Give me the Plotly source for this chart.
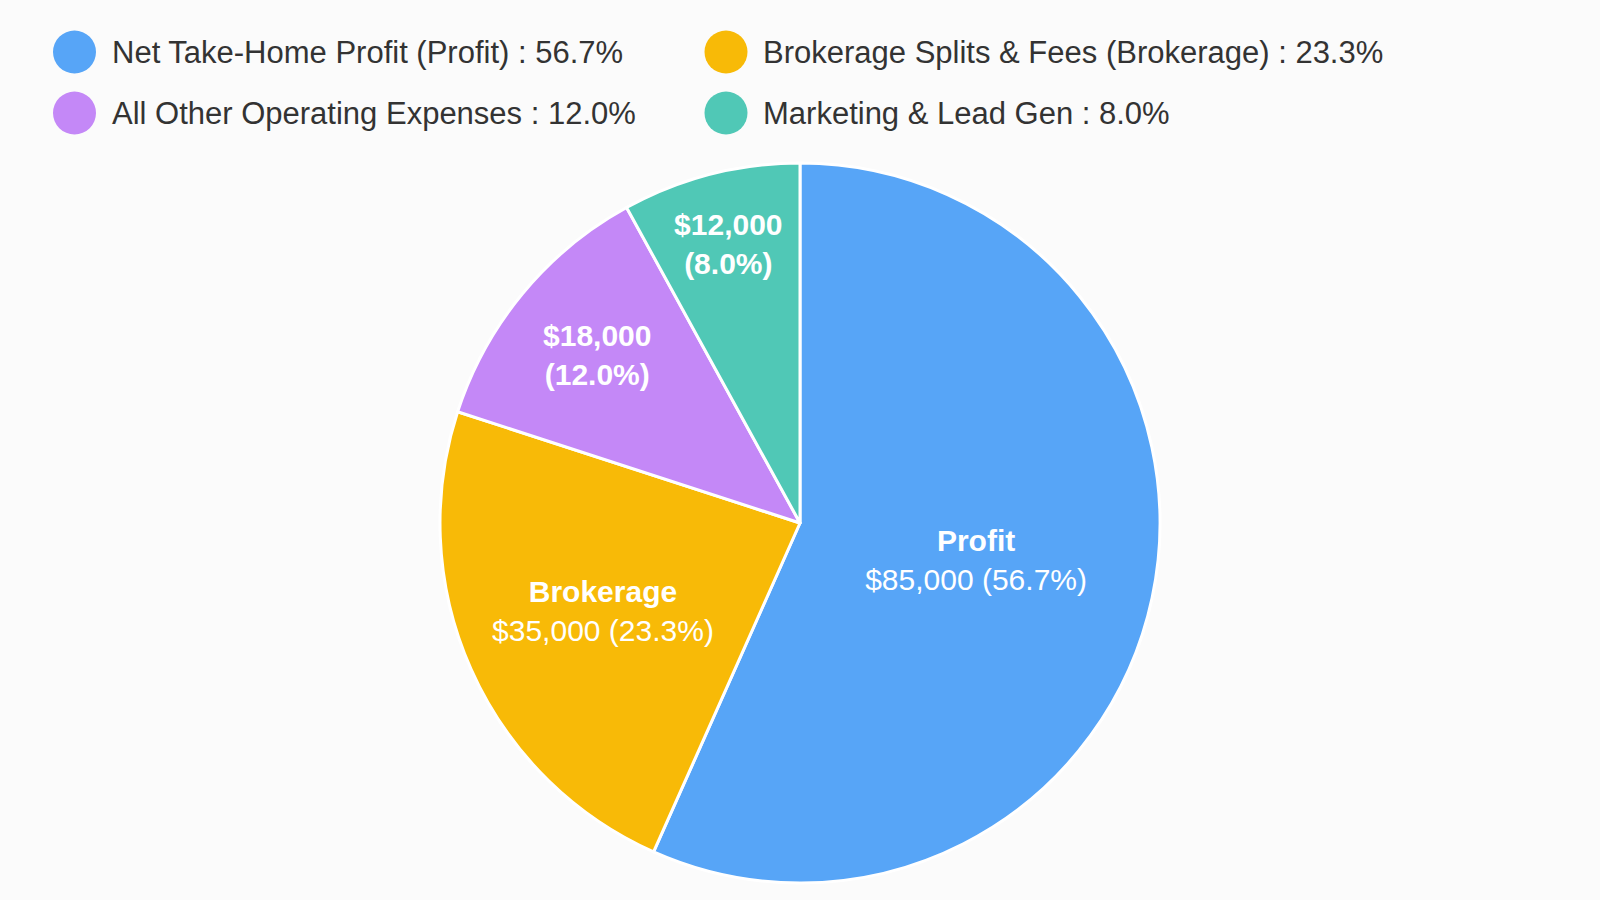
import plotly.graph_objects as go

# slice data
short_names = ["Profit", "Brokerage", "Other", "Marketing"]
legend_names = [
    "Net Take-Home Profit (Profit)",
    "Brokerage Splits & Fees (Brokerage)",
    "All Other Operating Expenses",
    "Marketing & Lead Gen",
]
amounts = [85000, 35000, 18000, 12000]
colors = ["#57A5F7", "#F8BA07", "#C488F7", "#50C8B6"]

total = sum(amounts)
pcts = [a / total * 100 for a in amounts]

# slice labels: big slices get a name line, small ones just value + pct
slice_text = []
for name, a, p in zip(short_names, amounts, pcts):
    if p > 20:
        slice_text.append(f"<b>{name}</b><br>${a:,.0f} ({p:.1f}%)")
    else:
        slice_text.append(f"<b>${a:,.0f}<br>({p:.1f}%)</b>")

fig = go.Figure()
fig.add_trace(go.Pie(
    labels=legend_names,
    values=amounts,
    text=slice_text,
    textinfo="text",
    textposition="inside",
    insidetextorientation="horizontal",
    textfont=dict(family="Liberation Sans, Arial", size=30, color="white"),
    marker=dict(colors=colors, line=dict(color="white", width=3)),
    sort=False,
    direction="clockwise",
    rotation=0,
    showlegend=False,
    hoverinfo="label+value+percent",
    domain=dict(x=[0.27375, 0.72625], y=[0, 1]),
))

# custom legend with big round chips (plotly caps legend marker size)
W, H = 1600, 900
ml, mr, mt, mb = 0, 0, 163, 17
pw, ph = W - ml - mr, H - mt - mb


def px_x(x):
    return (x - ml) / pw


def px_y(y):
    return (H - mb - y) / ph


col_x = [74.5, 726]
row_y = [52, 113]
shapes = []
annotations = []
for i, (name, p, c) in enumerate(zip(legend_names, pcts, colors)):
    cx, cy = col_x[i % 2], row_y[i // 2]
    shapes.append(dict(
        type="circle", xref="paper", yref="paper",
        xsizemode="pixel", ysizemode="pixel",
        xanchor=px_x(cx), yanchor=px_y(cy),
        x0=-21.5, x1=21.5, y0=-21.5, y1=21.5,
        fillcolor=c, line=dict(width=0),
    ))
    annotations.append(dict(
        x=px_x(cx + 35), y=px_y(cy), xref="paper", yref="paper",
        xanchor="left", yanchor="middle", showarrow=False,
        text=f"{name} : {p:.1f}%",
        font=dict(family="Liberation Sans, Arial", size=31, color="#333333"),
    ))

fig.update_layout(
    width=W, height=H,
    margin=dict(l=ml, r=mr, t=mt, b=mb),
    paper_bgcolor="#FBFBFB",
    plot_bgcolor="#FBFBFB",
    shapes=shapes,
    annotations=annotations,
    uniformtext=dict(minsize=10, mode="show"),
)

# drop the default page margin so the 1600x900 figure fills the window exactly
fig.write_html(
    "out.html",
    config={"displayModeBar": False},
    post_script="document.body.style.margin='0';document.body.style.overflow='hidden';",
)
